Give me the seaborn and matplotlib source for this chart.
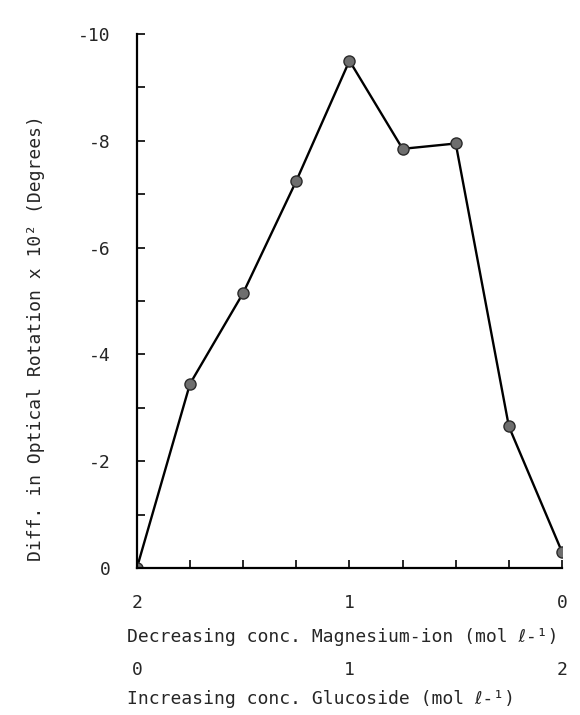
import matplotlib
matplotlib.use("Agg")
import matplotlib.pyplot as plt
from matplotlib.ticker import MultipleLocator, FuncFormatter
import seaborn as sns
import pandas as pd

# Data
magnesium_conc = [2.0, 1.75, 1.5, 1.25, 1.0, 0.75, 0.5, 0.25, 0.0]
rotation_diff = [0.0, -3.45, -5.15, -7.25, -9.5, -7.85, -7.95, -2.65, -0.3]
glucoside_ticks = [0, 1, 2]

x_label = "Decreasing conc. Magnesium-ion (mol \u2113-\u00b9)"
x2_label = "Increasing conc. Glucoside (mol \u2113-\u00b9)"
y_label = "Diff. in Optical Rotation x 10\u00b2 (Degrees)"

sns.set_style("ticks")
plt.rcParams["font.family"] = ["DejaVu Sans Mono", "DejaVu Sans"]
plt.rcParams["axes.unicode_minus"] = False
FS = 13

df = pd.DataFrame({"mg": magnesium_conc, "diff": rotation_diff})

fig = plt.figure(figsize=(5.8, 7.15), dpi=100)
ax = fig.add_axes([0.236, 0.2056, 0.733, 0.7468])

sns.lineplot(data=df, x="mg", y="diff", sort=False, ax=ax, color="black",
             linewidth=1.7, marker="o", markersize=8,
             markerfacecolor="#6e6e6e", markeredgecolor="#2a2a2a",
             markeredgewidth=1.0)

ax.set_xlim(2, 0)
ax.set_ylim(0, -10)
sns.despine(ax=ax)
for s in ["left", "bottom"]:
    ax.spines[s].set_linewidth(1.6)
    ax.spines[s].set_color("black")

ax.yaxis.set_major_locator(MultipleLocator(2))
ax.yaxis.set_minor_locator(MultipleLocator(1))
ax.yaxis.set_major_formatter(FuncFormatter(lambda v, p: f"{int(round(v))}"))
ax.xaxis.set_major_locator(MultipleLocator(0.25))
ax.xaxis.set_major_formatter(FuncFormatter(
    lambda v, p: f"{int(round(v))}" if abs(v - round(v)) < 1e-6 else ""))

ax.tick_params(axis="y", which="both", direction="in", length=6, width=1.4,
               pad=19, labelsize=FS)
ax.tick_params(axis="x", which="both", direction="in", length=6, width=1.4,
               pad=19, labelsize=FS)

ax.set_xlabel(x_label, fontsize=FS)
ax.xaxis.label.set_ha("left")
ax.xaxis.set_label_coords(-0.024, -0.112)
ax.set_ylabel(y_label, fontsize=FS)
ax.yaxis.set_label_coords(-0.215, 0.43)

sec = ax.secondary_xaxis(-0.163, functions=(lambda x: 2 - x, lambda x: 2 - x))
sec.set_xticks(glucoside_ticks)
sec.set_xticklabels([str(t) for t in glucoside_ticks])
sec.spines["bottom"].set_visible(False)
sec.tick_params(axis="x", length=0, pad=4, labelsize=FS)
sec.set_xlabel(x2_label, fontsize=FS)
sec.xaxis.label.set_ha("left")
sec.xaxis.set_label_coords(-0.024, -0.228, transform=ax.transAxes)

fig.savefig("out.png", dpi=100, facecolor="white")
